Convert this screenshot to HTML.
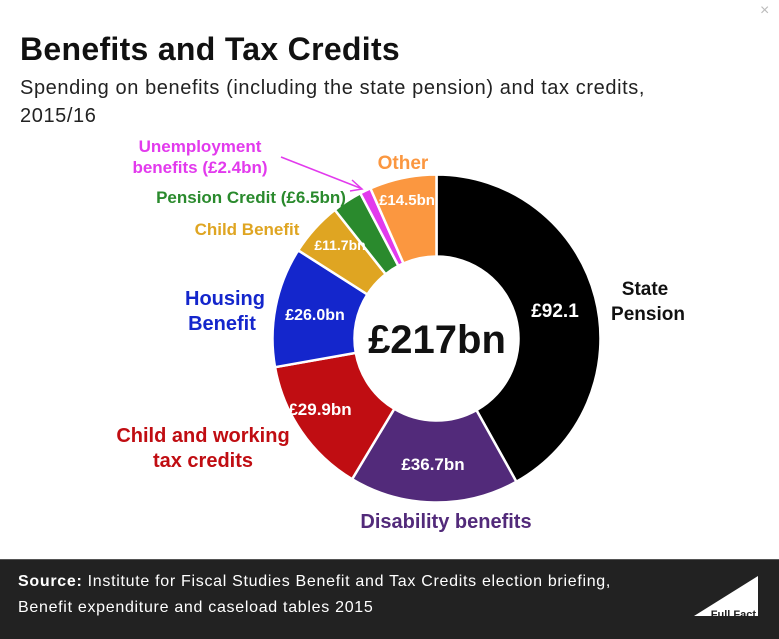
<!DOCTYPE html>
<html><head><meta charset="utf-8"><style>
body{margin:0;width:779px;height:638px;background:#fff;overflow:hidden;font-family:"Liberation Sans",sans-serif;position:relative}
.t{position:absolute;white-space:nowrap}
</style></head><body>
<div class="t" style="left:20px;top:31px;font-size:32px;font-weight:bold;color:#111;letter-spacing:0.3px">Benefits and Tax Credits</div>
<div class="t" style="left:20px;top:74px;font-size:20px;color:#222;line-height:28px;letter-spacing:0.6px">Spending on benefits (including the state pension) and tax credits,<br>2015/16</div>
<div class="t" style="left:760px;top:2px;font-size:16px;color:#bbb">×</div>
<svg id="s" width="779" height="638" style="position:absolute;left:0;top:0"></svg>
<div style="position:absolute;left:0;top:559px;width:779px;height:79px;background:#222;border-top:1px solid #555"></div>
<div class="t" style="left:18px;top:569px;font-size:16px;color:#fff;line-height:26px;letter-spacing:0.7px"><b>Source:</b> Institute for Fiscal Studies Benefit and Tax Credits election briefing,<br>Benefit expenditure and caseload tables 2015</div>
<svg width="779" height="638" style="position:absolute;left:0;top:0"><polygon points="694,616 758,576 758,616" fill="#fff"/><text x="756" y="618" font-size="11" font-weight="bold" fill="#222" text-anchor="end" font-family="Liberation Sans">Full Fact</text></svg>
<script>
var d=[[92.1,'#000'],[36.7,'#522a7a'],[29.9,'#c00d12'],[26.0,'#1426cc'],[11.7,'#dfa522'],[6.5,'#2a8a2d'],[2.4,'#e23aed'],[14.5,'#fb9740']];
var tot=0;d.forEach(x=>tot+=x[0]);
var cx=436.5,cy=338.5,R=164,r=82,a=0,h='';
function p(ang,rad){return (cx+rad*Math.sin(ang)).toFixed(2)+','+(cy-rad*Math.cos(ang)).toFixed(2)}
d.forEach(x=>{var b=a+x[0]/tot*2*Math.PI,l=(b-a)>Math.PI?1:0;
h+='<path d="M'+p(a,R)+'A'+R+','+R+' 0 '+l+' 1 '+p(b,R)+'L'+p(b,r)+'A'+r+','+r+' 0 '+l+' 0 '+p(a,r)+'Z" fill="'+x[1]+'" stroke="#fff" stroke-width="2.5"/>';a=b;});
var F='font-family="Liberation Sans" font-weight="bold"';
function T(x,y,s,c,sz,an){return '<text x="'+x+'" y="'+y+'" fill="'+c+'" font-size="'+sz+'" text-anchor="'+(an||'middle')+'" '+F+'>'+s+'</text>';}
h+=T(437,353,'£217bn','#111',40);
h+=T(555,317,'£92.1','#fff',19);
h+=T(433,470,'£36.7bn','#fff',17);
h+=T(320,415,'£29.9bn','#fff',17);
h+=T(315,320,'£26.0bn','#fff',16);
h+=T(340,250,'£11.7bn','#fff',14);
h+=T(407,205,'£14.5bn','#fff',15);
h+=T(645,295,'State','#111',19);h+=T(648,320,'Pension','#111',19);
h+=T(446,528,'Disability benefits','#522a7a',20);
h+=T(203,442,'Child and working','#c00d12',20);h+=T(203,467,'tax credits','#c00d12',20);
h+=T(225,305,'Housing','#1426cc',20);h+=T(222,330,'Benefit','#1426cc',20);
h+=T(247,235,'Child Benefit','#dfa522',17);
h+=T(251,203,'Pension Credit (£6.5bn)','#2a8a2d',17);
h+=T(200,152,'Unemployment','#e23aed',17);h+=T(200,173,'benefits (£2.4bn)','#e23aed',17);
h+=T(403,169,'Other','#fb9740',19);
h+='<line x1="281" y1="157" x2="360" y2="188" stroke="#e23aed" stroke-width="1.5"/><polyline points="352,180 362,189 350,191" fill="none" stroke="#e23aed" stroke-width="1.5"/>';
document.getElementById('s').innerHTML=h;
</script>
</body></html>
